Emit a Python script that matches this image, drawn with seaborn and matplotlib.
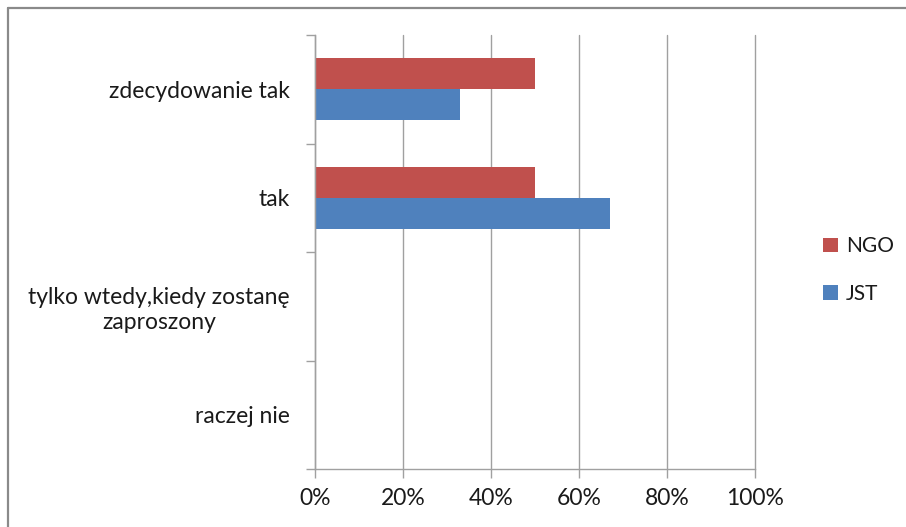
import pandas as pd
import matplotlib.pyplot as plt
import seaborn as sns
from matplotlib.ticker import FuncFormatter, FixedLocator

# -----------------------------------
# DATA
# -----------------------------------
categories = [
    "zdecydowanie tak",
    "tak",
    "tylko wtedy,kiedy zostanę\nzaproszony",
    "raczej nie",
]
ngo = [50, 50, 0, 0]
jst = [33, 67, 0, 0]
series = ["NGO", "JST"]
colors = ["#C0504D", "#4F81BD"]
x_ticks = [0, 20, 40, 60, 80, 100]

df = pd.DataFrame({
    "kategoria": categories * 2,
    "seria": ["NGO"] * len(categories) + ["JST"] * len(categories),
    "wartosc": ngo + jst,
})

# -----------------------------------
# VISUAL SETTINGS
# -----------------------------------
sns.set_style("white")
plt.rcParams["font.family"] = ["Lato", "DejaVu Sans"]
grid_gray = "#A0A0A0"
text_col = "#1A1A1A"

fig = plt.figure(figsize=(9.06, 5.27), dpi=100)
ax = fig.add_axes([315 / 906, 1 - 469 / 527, 440 / 906, 434 / 527])

sns.barplot(
    data=df, y="kategoria", x="wartosc", hue="seria",
    order=categories, hue_order=series, palette=colors,
    orient="h", width=0.57, saturation=1, errorbar=None, ax=ax,
    linewidth=0,
)

# -----------------------------------
# AXES
# -----------------------------------
ax.set_xlim(0, 100)
ax.set_ylim(len(categories) - 0.5, -0.5)
ax.set_xticks(x_ticks)
ax.xaxis.set_major_formatter(FuncFormatter(lambda v, p: f"{v:.0f}%"))
ax.set_xlabel("")
ax.set_ylabel("")

ax.grid(axis="x", color=grid_gray, linewidth=1)
ax.set_axisbelow(True)
for gl in ax.get_xgridlines():
    gl.set_clip_on(False)

for side in ["top", "right"]:
    ax.spines[side].set_visible(False)
for side in ["left", "bottom"]:
    ax.spines[side].set_color(grid_gray)
    ax.spines[side].set_linewidth(1)

ax.tick_params(axis="x", which="major", direction="out", length=6.5,
               width=1, color=grid_gray, pad=7, labelsize=16.5,
               labelcolor=text_col, bottom=True)
ax.tick_params(axis="y", which="major", length=0, pad=18, labelsize=16.5,
               labelcolor=text_col)
ax.yaxis.set_minor_locator(FixedLocator([i - 0.5 for i in range(len(categories) + 1)]))
ax.tick_params(axis="y", which="minor", direction="out", length=6.5,
               width=1, color=grid_gray, left=True)
for lbl in ax.get_yticklabels():
    lbl.set_multialignment("center")

# -----------------------------------
# LEGEND
# -----------------------------------
leg = ax.legend(
    loc="center left", bbox_to_anchor=(815 / 906, 1 - 270 / 527),
    bbox_transform=fig.transFigure, frameon=False, fontsize=15,
    handlelength=0.7, handleheight=0.7, handletextpad=0.4,
    labelspacing=1.3, borderaxespad=0,
)
for t in leg.get_texts():
    t.set_color(text_col)

# -----------------------------------
# OUTER FRAME
# -----------------------------------
fig.add_artist(plt.Line2D([8 / 906, 8 / 906], [0, 1 - 8 / 527],
                          transform=fig.transFigure, color="#8A8A8A", linewidth=1.6))
fig.add_artist(plt.Line2D([8 / 906, 1], [1 - 8 / 527, 1 - 8 / 527],
                          transform=fig.transFigure, color="#8A8A8A", linewidth=1.6))

fig.savefig("out.png", dpi=100)
